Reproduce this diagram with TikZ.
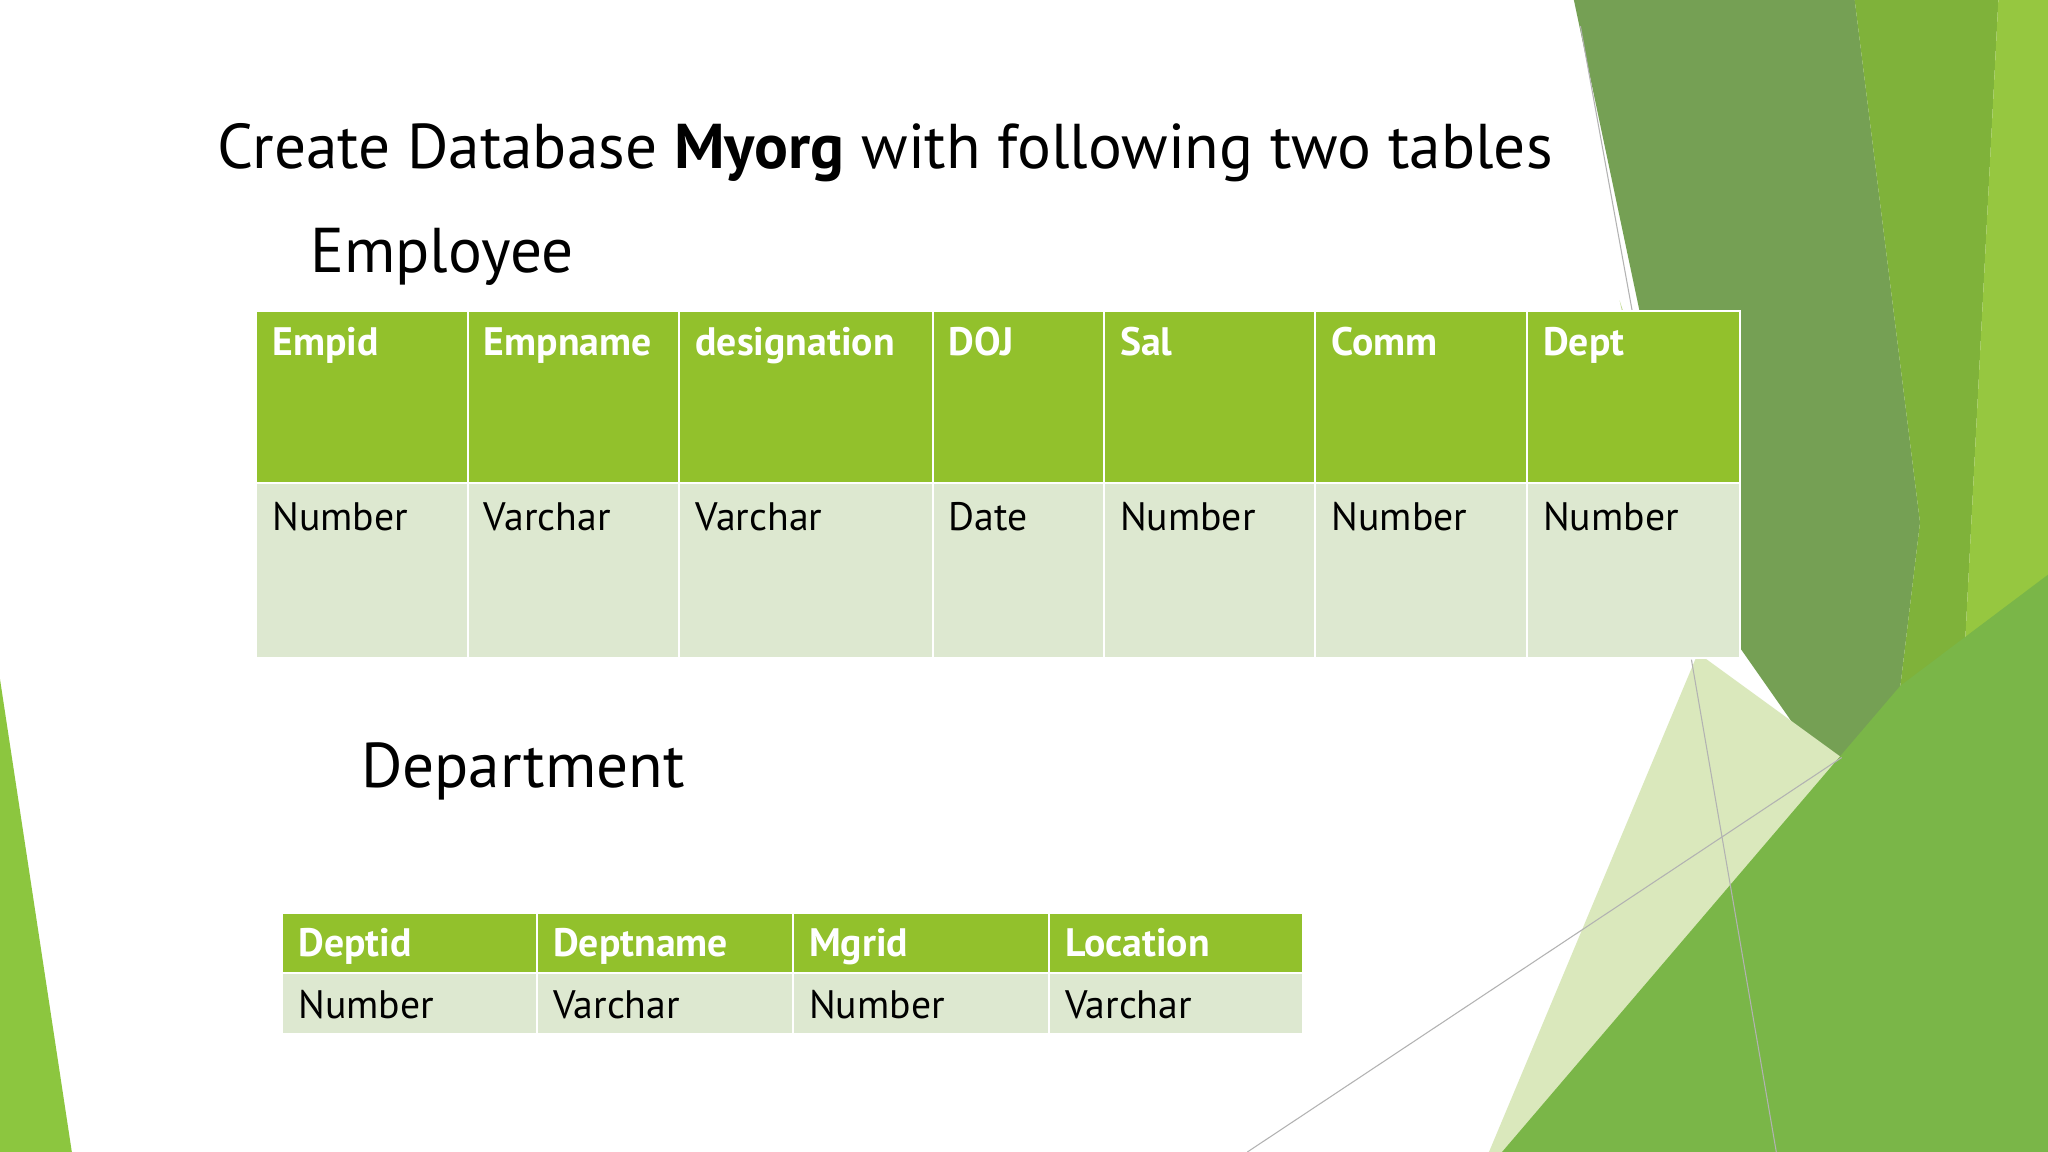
\documentclass[tikz,border=0pt]{standalone}
\usepackage{fontspec}
\setmainfont{PT Sans}
\definecolor{hdr}{HTML}{92C12C}
\definecolor{cellbg}{HTML}{DDE8D0}
\begin{document}
\begin{tikzpicture}[x=0.013061cm,y=-0.013061cm,
            hcell/.style={fill=hdr, draw=white, line width=0.6pt},
            bcell/.style={fill=cellbg, draw=white, line width=0.6pt},
            htext/.style={anchor=base west, inner sep=0pt, text=white, font=\fontsize{11.3}{13}\selectfont\bfseries},
            btext/.style={anchor=base west, inner sep=0pt, font=\fontsize{11.3}{13}\selectfont},
            heading/.style={anchor=base west, inner sep=0pt, font=\fontsize{18}{21}\selectfont}
        ]
            \useasboundingbox (0,0) rectangle (1568,882);
            % background shapes
            \fill[white] (0,0) rectangle (1568,882);
            \fill[color={rgb,255:red,196;green,220;blue,150}] (1240,230) -- (1330,500) -- (1300,505) -- cycle;
            \fill[color={rgb,255:red,117;green,160;blue,84}] (1205,0) -- (1420,0) -- (1470,400) -- (1440,650) -- (1300,450) -- cycle;
            \fill[color={rgb,255:red,127;green,178;blue,58}] (1420,0) -- (1530,0) -- (1500,580) -- (1440,650) -- (1470,400) -- cycle;
            \fill[color={rgb,255:red,150;green,199;blue,64}] (1530,0) -- (1568,0) -- (1568,882) -- (1440,882) -- (1500,580) -- cycle;
            \fill[color={rgb,255:red,218;green,232;blue,188}] (1300,500) -- (1410,580) -- (1200,882) -- (1140,882) -- cycle;
            \fill[color={rgb,255:red,122;green,182;blue,72}] (1455,525) -- (1568,440) -- (1568,882) -- (1150,882) -- cycle;
            \fill[color={rgb,255:red,140;green,198;blue,63}] (0,520) -- (55,882) -- (0,882) -- cycle;
            \draw[black!30, line width=0.3pt] (1210,20) -- (1250,240);
            \draw[black!30, line width=0.3pt] (1295,505) -- (1360,882);
            \draw[black!30, line width=0.3pt] (955,882) -- (1410,580);
            % headings
            \node[heading] (title) at (166,129) {Create Database \textbf{Myorg} with following two tables};
            \node[heading] (emp) at (237,209) {Employee};
            \node[heading] (dept) at (276,603) {Department};
            % employee table
            \foreach \xa/\xb/\h/\b [count=\i] in {196/358/Empid/Number, 358/520/Empname/Varchar,
                520/714/designation/Varchar, 714/845/DOJ/Date, 845/1007/Sal/Number,
                1007/1169/Comm/Number, 1169/1332/Dept/Number} {
                \path[hcell] (\xa,238) rectangle (\xb,370);
                \path[bcell] (\xa,370) rectangle (\xb,504);
                \node[htext] (eh\i) at (\xa+12,272) {\h};
                \node[btext] (eb\i) at (\xa+12,406) {\b};
            }
            % department table
            \foreach \xa/\xb/\h/\b [count=\i] in {216/411/Deptid/Number, 411/607/Deptname/Varchar,
                607/803/Mgrid/Number, 803/998/Location/Varchar} {
                \path[hcell] (\xa,699) rectangle (\xb,745);
                \path[bcell] (\xa,745) rectangle (\xb,792);
                \node[htext] (dh\i) at (\xa+12,732) {\h};
                \node[btext] (db\i) at (\xa+12,780) {\b};
            }
        \end{tikzpicture}
\end{document}
